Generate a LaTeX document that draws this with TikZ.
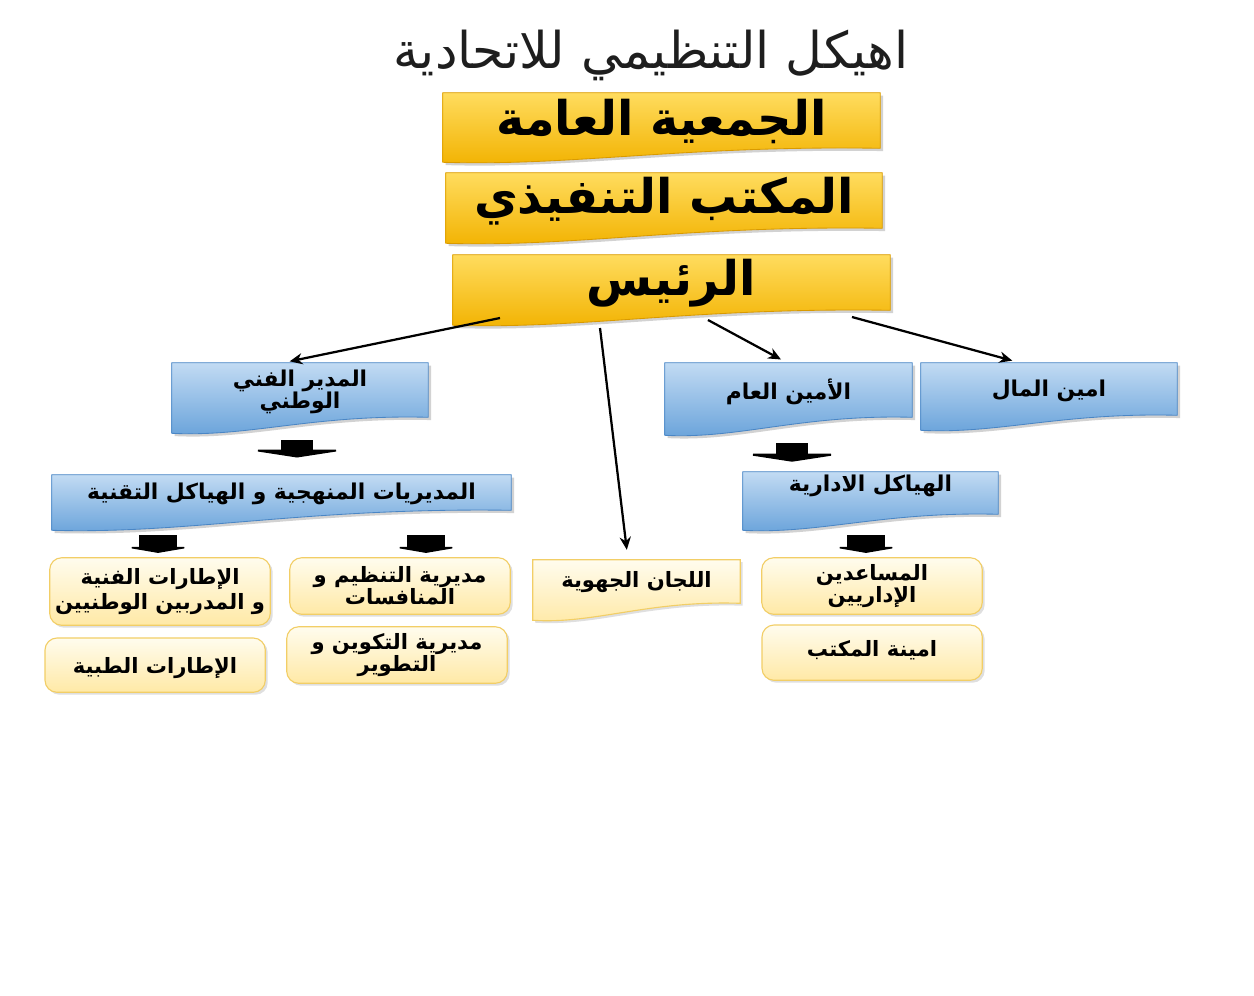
\documentclass[tikz,border=0pt]{standalone}
\usepackage{fontspec}
\newfontfamily\ar[Script=Arabic]{DejaVu Sans}
\TeXXeTstate=1
\usetikzlibrary{calc,backgrounds,shadows,arrows.meta}
\definecolor{goldT}{HTML}{FFDC5E}
\definecolor{goldB}{HTML}{F2B200}
\definecolor{goldE}{HTML}{D99A00}
\definecolor{blueT}{HTML}{C2DBF3}
\definecolor{blueB}{HTML}{68A2DA}
\definecolor{blueE}{HTML}{4A86C5}
\definecolor{creamT}{HTML}{FFFCEE}
\definecolor{creamB}{HTML}{FFE9A6}
\definecolor{creamE}{HTML}{F2CE66}
\definecolor{titleC}{HTML}{1E1E1E}
\newcommand\tightls{\lineskiplimit=-30pt\relax}
\newcommand\docbg[4]{%
  \path[#2] (#1.north west) -- (#1.north east) -- ($(#1.south east)+(0,#3)$)
    .. controls ($(#1.south east)!0.45!(#1.south west)+(0,#3-3)$) and ($(#1.south east)!0.7!(#1.south west)+(0,#4+4)$)
    .. ($(#1.south west)+(0,#4)$) -- cycle;}
\tikzset{
  area/.style n args={4}{at={({(#1+#3)/2},{(#2+#4)/2})},
     minimum width={(#3-#1)*0.025cm}, minimum height={(#4-#2)*0.025cm}},
  box/.style={inner sep=0pt, text=black, align=center},
  goldtxt/.style={box, font=\ar\bfseries\fontsize{34}{40}\selectfont},
  bluetxt/.style={box, font={\ar\bfseries\fontsize{15.5}{15.5}\selectfont\tightls}},
  creamtxt/.style={box, font={\ar\bfseries\fontsize{15}{15.5}\selectfont\tightls}},
  goldfill/.style={top color=goldT, bottom color=goldB, draw=goldE, line width=0.6pt,
     drop shadow={shadow xshift=0.07cm, shadow yshift=-0.07cm, opacity=0.35}},
  bluefill/.style={top color=blueT, bottom color=blueB, draw=blueE, line width=0.6pt,
     drop shadow={shadow xshift=0.07cm, shadow yshift=-0.07cm, opacity=0.35}},
  creamfill/.style={top color=creamT, bottom color=creamB, draw=creamE, line width=0.8pt,
     drop shadow={shadow xshift=0.06cm, shadow yshift=-0.06cm, opacity=0.25}},
  thinarrow/.style={line width=1.6pt, -{Stealth[length=0.32cm,width=0.28cm]}},
  blkA/.style={line width=0.8cm, -{Triangle[length=0.2cm,width=2.6cm]}},
  blkB/.style={line width=0.95cm, -{Triangle[length=0.15cm,width=1.75cm]}},
}
\begin{document}
\begin{tikzpicture}[x=0.025cm,y=-0.025cm]
\path[use as bounding box] (0,0) rectangle (1254,995);
% title
\node[font=\ar\fontsize{36}{40}\selectfont, text=titleC] (title) at (651,55) {\beginR اهيكل التنظيمي للاتحادية\endR};
% gold boxes
\node[goldtxt, area={443}{93}{880}{150}] (ga) {\beginR الجمعية العامة\endR};
\node[goldtxt, area={446}{173}{882}{230}] (gb) {\beginR المكتب التنفيذي\endR};
\node[goldtxt, area={453}{255}{890}{312}] (gc) {\beginR الرئيس\endR};
% blue boxes
\node[bluetxt, area={172}{363}{428}{420}] (b1) {\beginR المدير الفني\endR\\\beginR الوطني\endR};
\node[bluetxt, area={665}{363}{912}{420}] (b2) {\beginR الأمين العام\endR};
\node[bluetxt, area={921}{363}{1177}{418}] (b3) {\beginR امين المال\endR};
\node[bluetxt, area={52}{475}{511}{512}] (b4) {\beginR المديريات المنهجية و الهياكل التقنية\endR};
\node[bluetxt, area={743}{472}{998}{500}] (b5) {\beginR الهياكل الادارية\endR};
% cream boxes
\node[creamtxt, font={\ar\bfseries\fontsize{15}{18}\selectfont\tightls}, area={50}{558}{270}{625}] (y1) {\beginR الإطارات الفنية\endR\\\beginR و المدربين الوطنيين\endR};
\node[creamtxt, area={45}{644}{265}{692}] (y2) {\beginR الإطارات الطبية\endR};
\node[creamtxt, area={290}{558}{510}{614}] (y3) {\beginR مديرية التنظيم و\endR\\\beginR المنافسات\endR};
\node[creamtxt, font={\ar\bfseries\fontsize{15}{16}\selectfont\tightls}, area={287}{627}{507}{683}] (y4) {\beginR مديرية التكوين و\endR\\\beginR التطوير\endR};
\node[creamtxt, area={533}{560}{740}{605}] (y5) {\beginR اللجان الجهوية\endR};
\node[creamtxt, area={762}{558}{982}{614}] (y6) {\beginR المساعدين\endR\\\beginR الإداريين\endR};
\node[creamtxt, area={762}{620}{982}{680}] (y7) {\beginR امينة المكتب\endR};
\begin{scope}[on background layer]
  \fill[white] (0,0) rectangle (1254,995);
  \docbg{ga}{goldfill}{-2}{12}
  \docbg{gb}{goldfill}{-2}{13}
  \docbg{gc}{goldfill}{-2}{13}
  \docbg{b1}{bluefill}{-3}{13}
  \docbg{b2}{bluefill}{-3}{15}
  \docbg{b3}{bluefill}{-3}{12}
  \docbg{b4}{bluefill}{-2}{18}
  \docbg{b5}{bluefill}{14}{30}
  \docbg{y5}{creamfill}{-2}{15}
  \path[creamfill, rounded corners=0.3cm] (y1.north west) rectangle (y1.south east);
  \path[creamfill, rounded corners=0.3cm] (45,638) rectangle (y2.south east);
  \path[creamfill, rounded corners=0.3cm] (y3.north west) rectangle (y3.south east);
  \path[creamfill, rounded corners=0.3cm] (y4.north west) rectangle (y4.south east);
  \path[creamfill, rounded corners=0.3cm] (y6.north west) rectangle (y6.south east);
  \path[creamfill, rounded corners=0.3cm] (762,625) rectangle (y7.south east);
\end{scope}
% thin connectors
\coordinate (s1) at (500,318);
\coordinate (s2) at (600,328);
\coordinate (s3) at (708,320);
\coordinate (s4) at (852,317);
\coordinate (e1) at (283,0);
\coordinate (e2) at (628,0);
\coordinate (e3) at (787,0);
\coordinate (e4) at (1020,0);
\draw[thinarrow, shorten >=0.17cm] (s1) -- (e1 |- b1.north);
\draw[thinarrow, shorten >=0.25cm] (s2) -- (e2 |- y5.north);
\draw[thinarrow, shorten >=0.17cm] (s3) -- (e3 |- b2.north);
\draw[thinarrow, shorten >=0.2cm] (s4) -- (e4 |- b3.north);
% block arrows
\coordinate (k1) at (297,440);
\coordinate (k2) at (792,443);
\coordinate (k3) at (158,535);
\coordinate (k4) at (426,535);
\coordinate (k5) at (866,535);
\draw[blkA, shorten >=0.43cm] (k1) -- (k1 |- b4.north);
\draw[blkA, shorten >=0.25cm] (k2) -- (k2 |- b5.north);
\draw[blkB, shorten >=0.12cm] (k3) -- (k3 |- y1.north);
\draw[blkB, shorten >=0.12cm] (k4) -- (k4 |- y3.north);
\draw[blkB, shorten >=0.12cm] (k5) -- (k5 |- y6.north);
\end{tikzpicture}
\end{document}
